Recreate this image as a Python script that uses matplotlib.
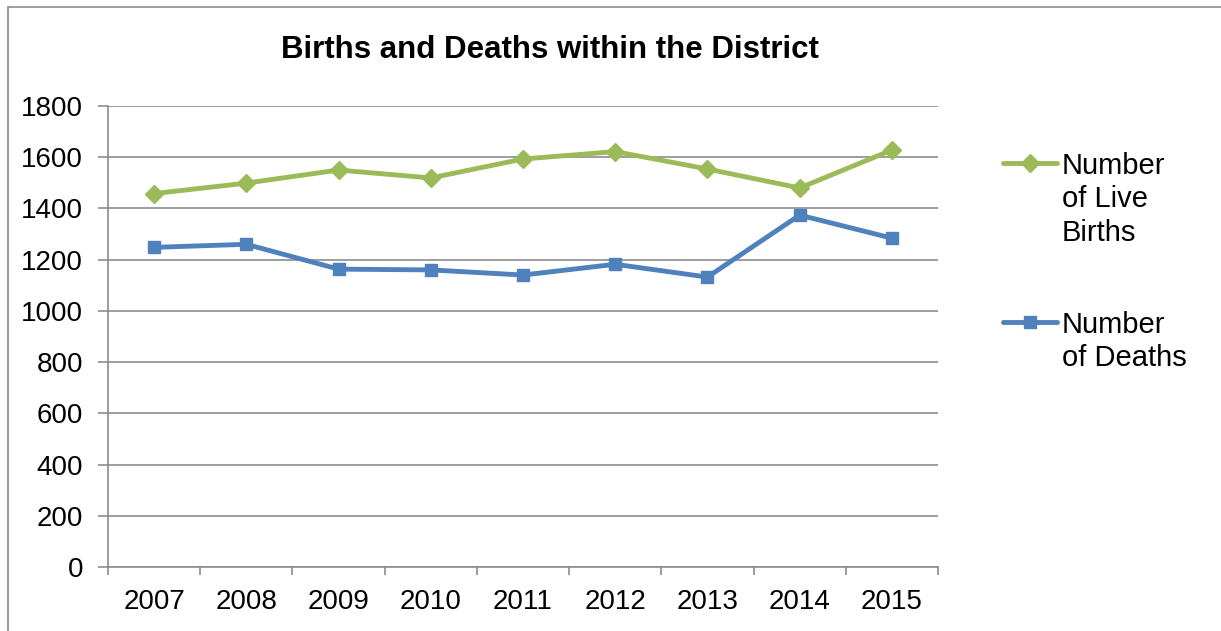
import matplotlib

matplotlib.use("Agg")
import matplotlib.pyplot as plt
from matplotlib.lines import Line2D
from matplotlib.patches import Rectangle

years = ["2007", "2008", "2009", "2010", "2011", "2012", "2013", "2014", "2015"]
live_births = [1458, 1499, 1550, 1519, 1593, 1622, 1554, 1480, 1628]
deaths = [1248, 1260, 1163, 1160, 1140, 1182, 1132, 1374, 1284]

GREEN = "#9bbb59"
BLUE = "#4f81bd"
GREY = "#8c8c8c"

W, H = 1221, 631
plt.rcParams["font.family"] = ["Liberation Sans", "DejaVu Sans"]
fig = plt.figure(figsize=(W / 100, H / 100), dpi=100)

# outer chart border (cut off at right/bottom like the screenshot)
fig.patches.append(Rectangle((8 / W, -0.1), 1.2, 1 - 7 / H + 0.1, transform=fig.transFigure,
                             fill=False, edgecolor=GREY, linewidth=1.2))

ax = fig.add_axes([108 / W, 1 - 567 / H, (938 - 108) / W, (567 - 106) / H])
x = list(range(len(years)))

ax.plot(x, live_births, color=GREEN, linewidth=3.5, marker="D", markersize=9.5, zorder=3)
ax.plot(x, deaths, color=BLUE, linewidth=3.5, marker="s", markersize=9, zorder=3)

ax.set_xlim(-0.5, len(years) - 0.5)
ax.set_ylim(0, 1800)
ax.set_yticks(range(0, 1801, 200))
ax.set_xticks(x)
ax.set_xticklabels(years)
ax.set_xticks([i - 0.5 for i in range(len(years) + 1)], minor=True)
ax.tick_params(axis="x", which="major", length=0, pad=16, labelsize=20)
ax.tick_params(axis="x", which="minor", length=6, color=GREY, width=1.2)
ax.tick_params(axis="y", length=7, color=GREY, width=1.2, labelsize=20, pad=11)
ax.grid(axis="y", color=GREY, linewidth=1.2)
ax.set_axisbelow(True)
for side in ("top", "right"):
    ax.spines[side].set_visible(False)
for side in ("left", "bottom"):
    ax.spines[side].set_color(GREY)
    ax.spines[side].set_linewidth(1.2)

fig.text(550 / W, 1 - 50 / H, "Births and Deaths within the District", ha="center", va="center",
         fontsize=22.5, fontweight="bold")

# legend drawn by hand so the key sits beside the first text line (Excel style)
legend_items = [
    (GREEN, "D", 9.5, "Number\nof Live\nBirths", 163),
    (BLUE, "s", 9, "Number\nof Deaths", 322),
]
for color, marker, msize, label, ypix in legend_items:
    yf = 1 - ypix / H
    fig.add_artist(Line2D([1003 / W, 1057 / W], [yf, yf], transform=fig.transFigure,
                          color=color, linewidth=3.5, solid_capstyle="round"))
    fig.add_artist(Line2D([1030 / W], [yf], transform=fig.transFigure, color=color,
                          marker=marker, markersize=msize, linestyle="none"))
    fig.text(1062 / W, 1 - (ypix - 11) / H, label, ha="left", va="top", fontsize=21,
             linespacing=1.24)

fig.savefig("out.png", dpi=100)
